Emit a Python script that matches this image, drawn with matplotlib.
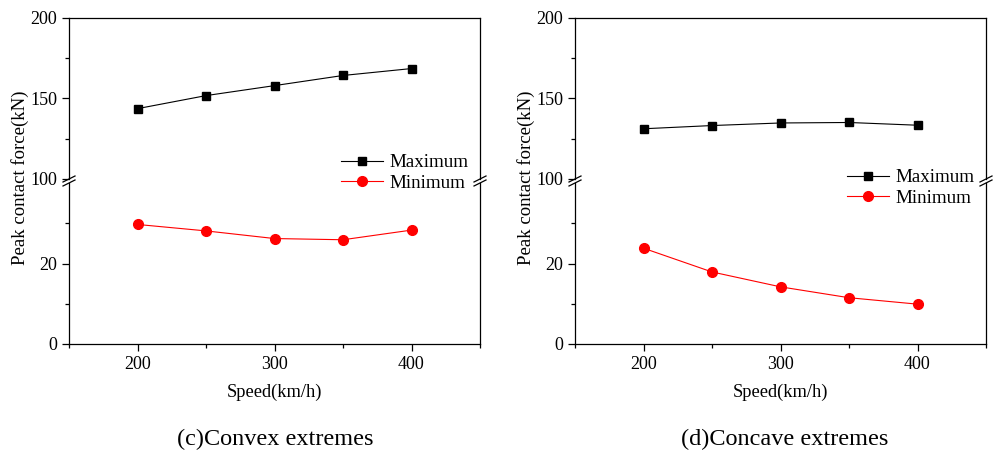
import matplotlib
matplotlib.use("Agg")
import matplotlib.pyplot as plt
from matplotlib.lines import Line2D

plt.rcParams['font.family'] = ['Liberation Serif', 'DejaVu Serif']
plt.rcParams['mathtext.fontset'] = 'stix'

speed = [200, 250, 300, 350, 400]
convex_max = [143.7, 151.8, 158.0, 164.3, 168.6]
convex_min = [29.7, 28.1, 26.2, 25.9, 28.3]
concave_max = [131.2, 133.2, 134.8, 135.1, 133.4]
concave_min = [23.8, 17.9, 14.2, 11.5, 9.9]
subtitles = ["(c)Convex extremes", "(d)Concave extremes"]
xlabel = "Speed(km/h)"
ylabel = "Peak contact force(kN)"
legend_labels = ["Maximum", "Minimum"]

W, H = 1000, 455
fig = plt.figure(figsize=(W / 100, H / 100), dpi=100)

def fx(px):
    return px / W

def fy(py):
    return 1 - py / H

panels = [
    dict(x0=69, x1=480, maxv=convex_max, minv=convex_min, sub=subtitles[0],
         ylab_x=20, xlab_x=275, sub_x=275, leg=(341, 162)),
    dict(x0=575, x1=986, maxv=concave_max, minv=concave_min, sub=subtitles[1],
         ylab_x=526, xlab_x=781, sub_x=785, leg=(847, 177)),
]

top_px, upb_px, lowt_px, bot_px = 18, 179, 183, 344
fs = 13
lw_sp = 0.9

for p in panels:
    axu = fig.add_axes([fx(p['x0']), fy(upb_px), fx(p['x1'] - p['x0']), (upb_px - top_px) / H])
    axl = fig.add_axes([fx(p['x0']), fy(bot_px), fx(p['x1'] - p['x0']), (bot_px - lowt_px) / H])
    for ax in (axu, axl):
        ax.plot(speed, p['maxv'], color='black', marker='s', markersize=6, linewidth=0.8, label=legend_labels[0])
        ax.plot(speed, p['minv'], color='red', marker='o', markersize=7, linewidth=0.8, label=legend_labels[1])
        ax.set_xlim(150, 450)
        for s in ax.spines.values():
            s.set_linewidth(lw_sp)
        ax.tick_params(which='both', direction='out', labelsize=fs, width=lw_sp)
        ax.tick_params(which='major', length=5)
        ax.tick_params(which='minor', length=3)
        ax.set_xticks([200, 300, 400])
        ax.set_xticks([150, 250, 350, 450], minor=True)
    axu.set_ylim(100, 200)
    axu.set_yticks([100, 150, 200])
    axu.set_yticks([125, 175], minor=True)
    axu.spines['bottom'].set_visible(False)
    axu.tick_params(axis='x', which='both', bottom=False, labelbottom=False)
    axl.set_ylim(0, 40)
    axl.set_yticks([0, 20])
    axl.set_yticks([10, 30], minor=True)
    axl.spines['top'].set_visible(False)

    # break marks
    for xb in (p['x0'], p['x1']):
        for yb in (upb_px, lowt_px):
            fig.add_artist(Line2D([fx(xb - 6), fx(xb + 6)], [fy(yb + 3), fy(yb - 3)],
                                  color='black', linewidth=0.9, transform=fig.transFigure))

    fig.text(fx(p['ylab_x']), fy(178), ylabel, rotation=90,
             ha='center', va='center', fontsize=13.5)
    fig.text(fx(p['xlab_x']), fy(392), xlabel, ha='center', va='center', fontsize=13.3)
    fig.text(fx(p['sub_x']), fy(439), p['sub'], ha='center', va='center', fontsize=17.5)

    handles, labels = axl.get_legend_handles_labels()
    lx, ly = p['leg']
    fig.legend(handles, labels, loc='center left', bbox_to_anchor=(fx(lx), fy(ly + 10.8)),
               bbox_transform=fig.transFigure, frameon=False, fontsize=13.7,
               handlelength=2.2, handletextpad=0.35, borderpad=0, borderaxespad=0,
               labelspacing=0.15)

fig.savefig("out.png", dpi=100)
